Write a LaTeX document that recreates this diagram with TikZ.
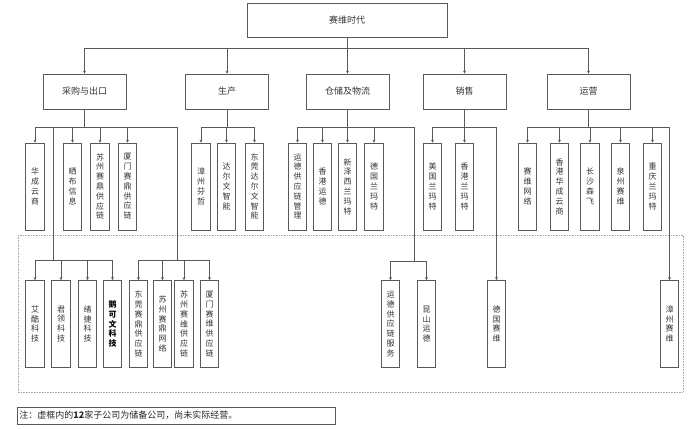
\documentclass[tikz,border=0pt]{standalone}
\usepackage{fontspec}
\setmainfont{Noto Sans CJK SC}
\usetikzlibrary{arrows.meta,positioning}
\colorlet{ln}{black!65}
\tikzset{
  arr/.style  = { draw=ln, line width=0.6pt, -{Stealth[length=3pt,width=3pt]} },
  bus/.style  = { draw=ln, line width=0.6pt },
  topbox/.style = { draw=ln, line width=0.7pt, minimum width=200pt, minimum height=34pt,
    font=\fontsize{9}{10}\selectfont, text=black!80 },
  dept/.style = { draw=ln, line width=0.7pt, minimum width=83pt, minimum height=35pt,
    font=\fontsize{9}{10}\selectfont, text=black!80 },
  sub/.style  = { draw=ln, line width=0.7pt, minimum width=18.5pt, minimum height=87pt,
    inner sep=0pt, align=center, font=\fontsize{8}{9.8}\selectfont, text=black!80 },
  resv/.style = { draw=black!35, line width=0.6pt, densely dotted },
  note/.style = { draw=ln, line width=0.7pt, minimum width=318pt, minimum height=17pt,
    anchor=west, inner xsep=2pt, text width=314pt, font=\fontsize{9}{10}\selectfont, text=black!85 }
}
\begin{document}
\begin{tikzpicture}[x=1pt,y=-1pt]
  \useasboundingbox (0,0) rectangle (692,428);
  % reserve area
  \draw[resv] (18,235) rectangle (683,392);
  % top and departments
  \node[topbox] (top) at (347,20) {赛维时代};
  \node[dept] (cg) at (84.5,91.5)  {采购与出口};
  \node[dept] (sc) at (227,91.5)   {生产};
  \node[dept] (cc) at (347.5,91.5) {仓储及物流};
  \node[dept] (xs) at (464.5,91.5) {销售};
  \node[dept] (yy) at (588.5,91.5) {运营};
  \coordinate (b1) at (0,48);
  \coordinate (b2) at (0,127);
  \foreach \n in {cg,sc,cc,xs,yy}
    \draw[arr] (top.south) -- (top.south|-b1) -| (\n.north);
  % level 3
  \node[sub] (a1) at (35,186.5)    {华\\成\\云\\商};
  \node[sub] (a2) at (72.5,186.5)  {晒\\布\\信\\息};
  \node[sub] (a3) at (100,186.5)   {苏\\州\\赛\\鼎\\供\\应\\链};
  \node[sub] (a4) at (127.5,186.5) {厦\\门\\赛\\鼎\\供\\应\\链};
  \node[sub] (p1) at (201,186.5)   {漳\\州\\芬\\哲};
  \node[sub] (p2) at (226.5,186.5) {达\\尔\\文\\智\\能};
  \node[sub] (p3) at (254.5,186.5) {东\\莞\\达\\尔\\文\\智\\能};
  \node[sub] (w1) at (297.5,186.5) {运\\德\\供\\应\\链\\管\\理};
  \node[sub] (w2) at (322.5,186.5) {香\\港\\运\\德};
  \node[sub] (w3) at (347.5,186.5) {新\\泽\\西\\兰\\玛\\特};
  \node[sub] (w4) at (374,186.5)   {德\\国\\兰\\玛\\特};
  \node[sub] (s1) at (432.5,186.5) {美\\国\\兰\\玛\\特};
  \node[sub] (s2) at (464.5,186.5) {香\\港\\兰\\玛\\特};
  \node[sub] (o1) at (527.5,186.5) {赛\\维\\网\\络};
  \node[sub] (o2) at (559.5,186.5) {香\\港\\华\\成\\云\\商};
  \node[sub] (o3) at (590,186.5)   {长\\沙\\森\\飞};
  \node[sub] (o4) at (620.5,186.5) {泉\\州\\赛\\维};
  \node[sub] (o5) at (652.5,186.5) {重\\庆\\兰\\玛\\特};
  \foreach \n in {a1,a2,a3,a4}
    \draw[arr] (cg.south) -- (cg.south|-b2) -| (\n.north);
  \foreach \n in {p1,p2,p3}
    \draw[arr] (sc.south) -- (sc.south|-b2) -| (\n.north);
  \foreach \n in {w1,w2,w3,w4}
    \draw[arr] (cc.south) -- (cc.south|-b2) -| (\n.north);
  \foreach \n in {s1,s2}
    \draw[arr] (xs.south) -- (xs.south|-b2) -| (\n.north);
  \foreach \n in {o1,o2,o3,o4,o5}
    \draw[arr] (yy.south) -- (yy.south|-b2) -| (\n.north);
  % level 4 (reserve companies)
  \node[sub] (r1) at (35,324)    {艾\\酷\\科\\技};
  \node[sub] (r2) at (61,324)    {君\\领\\科\\技};
  \node[sub] (r3) at (87.5,324)  {绪\\捷\\科\\技};
  \node[sub, font=\fontsize{8}{9.8}\selectfont\bfseries, text=black] (r4) at (112.5,324) {鹅\\可\\文\\科\\技};
  \node[sub] (r5) at (138.5,324) {东\\莞\\赛\\鼎\\供\\应\\链};
  \node[sub] (r6) at (162.5,324) {苏\\州\\赛\\鼎\\网\\络};
  \node[sub] (r7) at (184,324)   {苏\\州\\赛\\维\\供\\应\\链};
  \node[sub] (r8) at (209.5,324) {厦\\门\\赛\\维\\供\\应\\链};
  \node[sub] (r9) at (390.5,324) {运\\德\\供\\应\\链\\服\\务};
  \node[sub] (r10) at (426.5,324) {昆\\山\\运\\德};
  \node[sub] (r11) at (496.5,324) {德\\国\\赛\\维};
  \node[sub] (r12) at (669.5,324) {漳\\州\\赛\\维};
  \coordinate (ja) at (53,260);
  \coordinate (jb) at (177,260);
  \coordinate (jc) at (414,261);
  \foreach \n in {r1,r2,r3,r4}
    \draw[arr] (cg.south) -- (cg.south|-b2) -| (ja) -| (\n.north);
  \foreach \n in {r5,r6,r7,r8}
    \draw[arr] (cg.south) -- (cg.south|-b2) -| (jb) -| (\n.north);
  \foreach \n in {r9,r10}
    \draw[arr] (cc.south) -- (cc.south|-b2) -| (jc) -| (\n.north);
  \draw[arr] (xs.south) -- (xs.south|-b2) -| (r11.north);
  \draw[arr] (yy.south) -- (yy.south|-b2) -| (r12.north);
  % note
  \node[note] (nt) at (17,415.5) {注：虚框内的\textbf{12}家子公司为储备公司，尚未实际经营。};
\end{tikzpicture}
\end{document}
